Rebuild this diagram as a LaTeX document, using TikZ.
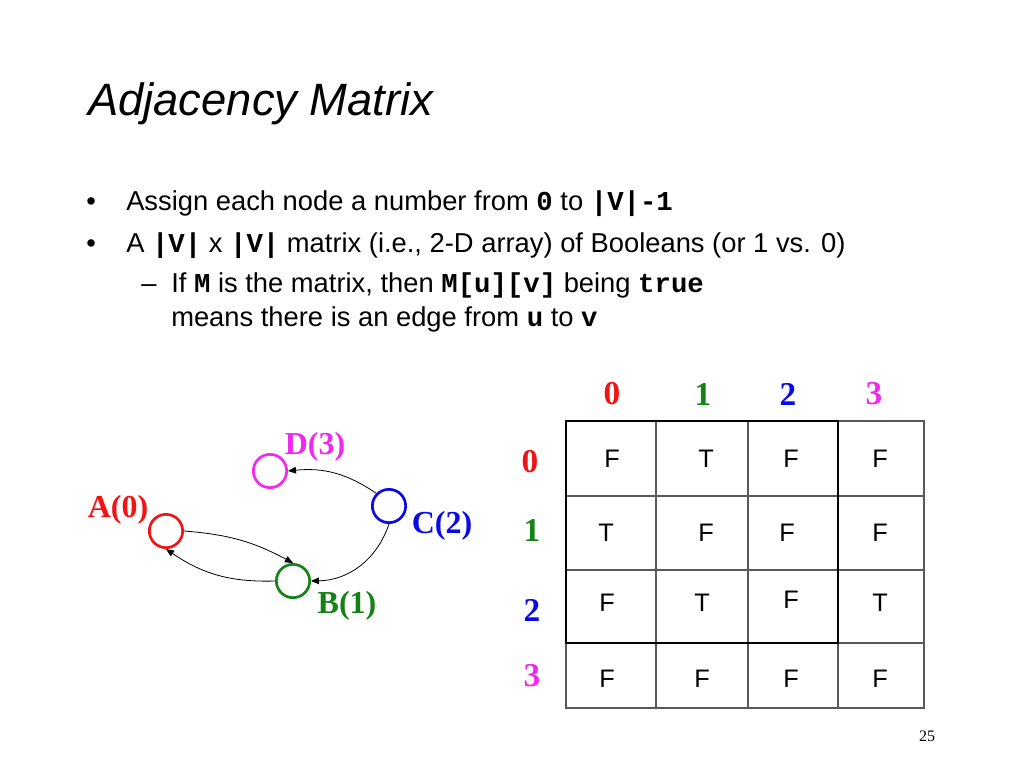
\documentclass[tikz,border=0pt]{standalone}
\usepackage{fontspec}
\setmainfont{Liberation Sans}
\newfontfamily\serifb{Liberation Serif}
\newfontfamily\monob{Liberation Mono}
\usetikzlibrary{arrows.meta}
\definecolor{cRed}{RGB}{240,20,20}
\definecolor{cGreen}{RGB}{20,130,20}
\definecolor{cBlue}{RGB}{10,10,230}
\definecolor{cMag}{RGB}{240,40,240}
\newcommand{\cd}[1]{{\monob\bfseries #1}}
\begin{document}
\begin{tikzpicture}[x=0.75pt,y=-0.75pt,
  txt/.style={anchor=base west,inner sep=0,font=\fontsize{20.5}{22}\selectfont},
  vtx/.style={circle,draw,line width=2pt,minimum size=25pt,inner sep=0},
  vlab/.style={font=\serifb\bfseries\fontsize{24}{26}\selectfont,inner sep=0},
  cell/.style={font=\fontsize{19}{21}\selectfont,inner sep=0},
  idx/.style={font=\serifb\bfseries\fontsize{25}{27}\selectfont,inner sep=0},
  edge/.style={-{Triangle[length=6pt,width=5pt]},line width=0.6pt}]
\useasboundingbox (0,0) rectangle (1024,768);
\node[anchor=base west,inner sep=0,font=\itshape\fontsize{34}{36}\selectfont] (title) at (88,115) {Adjacency Matrix};
\node[txt] (b1) at (86,210) {•};
\node[txt] (t1) at (126,210) {Assign each node a number from \cd{0} to \cd{|V|-1}};
\node[txt] (b2) at (86,252) {•};
\node[txt] (t2) at (126,252) {A \cd{|V|} x \cd{|V|} matrix (i.e., 2-D array) of Booleans (or 1 vs. 0)};
\node[txt] (d1) at (141,292) {–};
\node[txt] (t3) at (171,292) {If \cd{M} is the matrix, then \cd{M[u][v]} being \cd{true}};
\node[txt] (t4) at (171,326) {means there is an edge from \cd{u} to \cd{v}};
% graph
\node[vtx,draw=cMag] (D) at (270,471) {};
\node[vtx,draw=cRed] (A) at (166,531) {};
\node[vtx,draw=cBlue] (C) at (389,506) {};
\node[vtx,draw=cGreen] (B) at (293,581) {};
\node[vlab,text=cMag] (Dl) at (315,447) {D(3)};
\node[vlab,text=cRed] (Al) at (118,510) {A(0)};
\node[vlab,text=cBlue] (Cl) at (442,526) {C(2)};
\node[vlab,text=cGreen] (Bl) at (347,606) {B(1)};
\draw[edge] (C.north west) to[bend right=20] (D.east);
\draw[edge] (C.south) to[bend left=35] (B.east);
\draw[edge] (A.east) to[bend left=12] (B.north);
\draw[edge] (B.west) to[bend left=18] (A.south);
% matrix
\draw[gray!70!black,line width=0.8pt] (566,421) rectangle (924,708);
\foreach \x in {656,748,838} \draw[gray!70!black,line width=0.8pt] (\x,421) -- (\x,708);
\foreach \y in {496,570,643} \draw[gray!70!black,line width=0.8pt] (566,\y) -- (924,\y);
\draw[black,line width=1pt] (566,421) rectangle (838,643);
\foreach \t/\x/\y [count=\i] in {F/612/459,T/706/459,F/791/459,F/880/459,
  T/606/533,F/706/533,F/787/533,F/880/533,
  F/607/603,T/702/603,F/791/600,T/880/603,
  F/607/679,F/702/679,F/791/679,F/880/679}
  \node[cell] (m\i) at (\x,\y) {\t};
\node[idx,text=cRed] (c0) at (612,394) {0};
\node[idx,text=cGreen] (c1) at (703,394) {1};
\node[idx,text=cBlue] (c2) at (788,394) {2};
\node[idx,text=cMag] (c3) at (874,394) {3};
\node[idx,text=cRed] (r0) at (530,462) {0};
\node[idx,text=cGreen] (r1) at (532,530) {1};
\node[idx,text=cBlue] (r2) at (532,610) {2};
\node[idx,text=cMag] (r3) at (532,676) {3};
\node[font=\serifb\fontsize{12}{14}\selectfont,inner sep=0] (pg) at (927,736) {25};
\end{tikzpicture}
\end{document}
